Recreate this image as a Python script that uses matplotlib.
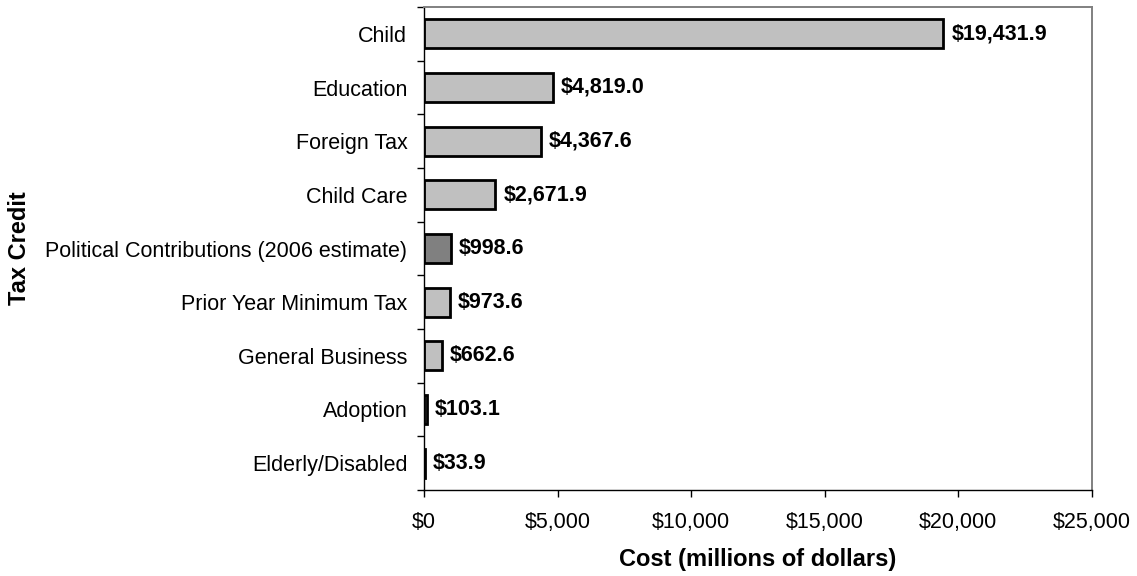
import numpy as np
import matplotlib.pyplot as plt
from matplotlib.ticker import FuncFormatter, FixedLocator

plt.rcParams['font.family'] = ['Liberation Sans', 'DejaVu Sans']

# tax credits, top to bottom
credits = ['Child', 'Education', 'Foreign Tax', 'Child Care',
           'Political Contributions (2006 estimate)', 'Prior Year Minimum Tax',
           'General Business', 'Adoption', 'Elderly/Disabled']
cost = [19431.9, 4819.0, 4367.6, 2671.9, 998.6, 973.6, 662.6, 103.1, 33.9]
highlight = 'Political Contributions (2006 estimate)'

fig = plt.figure(figsize=(11.37, 5.76), dpi=100)
ax = fig.add_axes([424/1137, 1 - 490/576, (1092 - 424)/1137, (490 - 7)/576])

n = len(credits)
ypos = np.arange(n)[::-1]
colors = ['#808080' if c == highlight else '#C0C0C0' for c in credits]
ax.barh(ypos, cost, height=0.54, color=colors, edgecolor='black', linewidth=2.0)

for y, v in zip(ypos, cost):
    ax.text(v + 300, y, '${:,.1f}'.format(v), va='center', ha='left',
            fontsize=15.5, fontweight='bold')

ax.set_xlim(0, 25000)
ax.set_ylim(-0.5, n - 0.5)
ax.set_xticks(np.arange(0, 25001, 5000))
ax.xaxis.set_major_formatter(FuncFormatter(lambda x, p: '${:,.0f}'.format(x)))
ax.set_yticks(ypos)
ax.set_yticklabels(credits)
ax.yaxis.set_minor_locator(FixedLocator(np.arange(-0.5, n, 1.0)))
ax.tick_params(axis='y', which='major', length=0, pad=12, labelsize=15.5)
ax.tick_params(axis='y', which='minor', length=5, width=1, direction='out')
ax.tick_params(axis='x', length=5, width=1, direction='out', pad=11, labelsize=15.5)

for side in ('top', 'right'):
    ax.spines[side].set_color('#808080')
    ax.spines[side].set_linewidth(1.4)
for side in ('left', 'bottom'):
    ax.spines[side].set_color('black')
    ax.spines[side].set_linewidth(1.0)

ax.set_xlabel('Cost (millions of dollars)', fontsize=17, fontweight='bold', labelpad=10.5)
fig.text(20/1137, 1 - 248.5/576, 'Tax Credit', rotation=90, va='center', ha='center',
         fontsize=17, fontweight='bold')

fig.savefig('out.png', dpi=100)
